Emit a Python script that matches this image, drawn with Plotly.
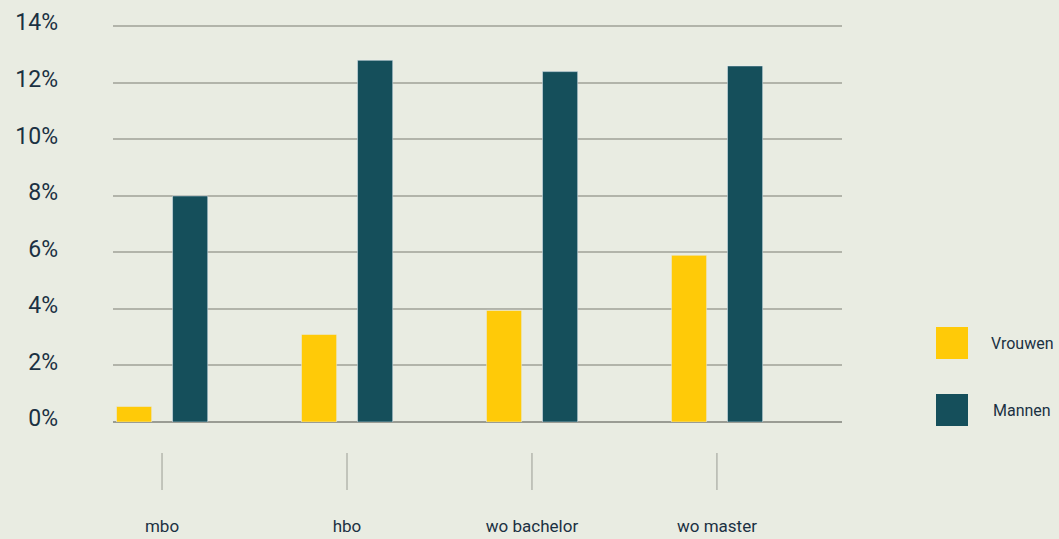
import plotly.graph_objects as go

categories = ["mbo", "hbo", "wo bachelor", "wo master"]
vrouwen = [0.55, 3.1, 3.95, 5.9]
mannen = [8.0, 12.8, 12.4, 12.6]
y_ticks = [0, 2, 4, 6, 8, 10, 12, 14]
y_labels = ["0%", "2%", "4%", "6%", "8%", "10%", "12%", "14%"]
series_names = ["Vrouwen", "Mannen"]

BG = "#E9ECE2"
YELLOW = "#FFCA08"
TEAL = "#154F5B"
TEXT = "#1B3142"
FONT = "Roboto, sans-serif"

fig = go.Figure()
fig.add_trace(go.Bar(x=categories, y=vrouwen, name=series_names[0], marker_color=YELLOW,
                     width=0.19, offset=-0.246, showlegend=False))
fig.add_trace(go.Bar(x=categories, y=mannen, name=series_names[1], marker_color=TEAL,
                     width=0.19, offset=0.057, showlegend=False))

PH = 397  # plot height in px

# category tick marks below the plot
for c in categories:
    fig.add_shape(type="line", xref="x", yref="paper", x0=c, x1=c,
                  y0=(422 - 453) / PH, y1=(422 - 490) / PH,
                  line=dict(color="#9A9C94", width=1))

# legend
legend_y = [(327, 359), (394, 426)]
colors = [YELLOW, TEAL]
for (ya, yb), col, nm in zip(legend_y, colors, series_names):
    y0 = (422 - yb) / PH
    y1 = (422 - ya) / PH
    fig.add_shape(type="rect", xref="paper", yref="paper",
                  x0=(936 - 113) / 729, x1=(968 - 113) / 729, y0=y0, y1=y1,
                  fillcolor=col, line=dict(width=0))
    fig.add_annotation(xref="paper", yref="paper", x=(1022 - 113) / 729, y=(y0 + y1) / 2,
                       text=nm, showarrow=False, xanchor="center", yanchor="middle",
                       font=dict(size=16, color=TEXT, family=FONT))

fig.update_layout(
    width=1059, height=539,
    margin=dict(l=113, r=217, t=25, b=117, pad=0),
    paper_bgcolor=BG, plot_bgcolor=BG,
    font=dict(family=FONT, color=TEXT),
    xaxis=dict(range=[-0.265, 3.676], showgrid=False, showline=False, zeroline=False,
               automargin=False,
               ticks="", tickfont=dict(size=17, color=TEXT), ticklabelstandoff=92),
    yaxis=dict(range=[0, 14.05], tickvals=y_ticks, ticktext=y_labels, showgrid=True,
               automargin=False,
               gridcolor="#B2B4AA", gridwidth=1.5, zeroline=True, zerolinecolor="#9A9C94",
               zerolinewidth=1.5, showline=False, ticks="",
               tickfont=dict(size=23, color=TEXT), ticklabelstandoff=54, ticklabelshift=-4),
)

fig.write_html("out.html", config={"displayModeBar": False},
               post_script="document.body.style.margin='0';document.body.style.background='%s';" % BG)
